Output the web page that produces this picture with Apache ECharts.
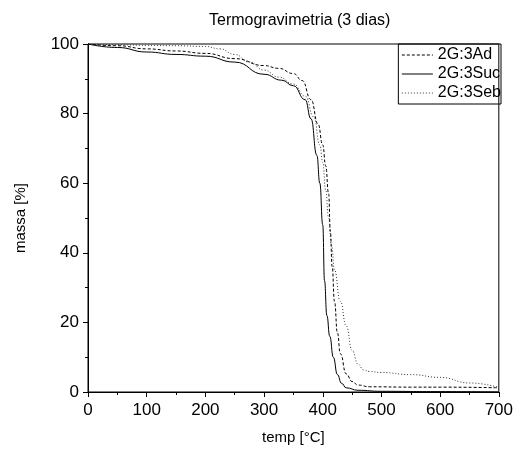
<!DOCTYPE html>
<html>
<head>
<meta charset="utf-8">
<script src="https://cdn.jsdelivr.net/npm/echarts@6/dist/echarts.min.js"></script>
<style>
  html, body { margin: 0; padding: 0; background: #fff; }
  #chart { width: 516px; height: 450px; }
</style>
</head>
<body>
<div id="chart"></div>
<script>
// TG curves: temperature [°C] and mass [%]
var adTemp = [0, 50, 100, 150, 200, 250, 300, 325, 350, 365, 380, 392, 400, 405, 410, 413, 416, 420, 425, 430, 440, 450, 460, 480, 550, 600, 700];
var adMass = [100, 99.5, 98.6, 98, 97.3, 95.8, 93.8, 93, 91.5, 89.5, 84, 77, 71, 65, 57, 46, 36, 26, 17, 11, 5.2, 3, 2, 1.5, 1.4, 1.4, 1.2];

var sucTemp = [0, 50, 100, 150, 200, 250, 300, 330, 350, 370, 380, 390, 395, 400, 403, 407, 412, 418, 425, 432, 440, 460, 500, 600, 700];
var sucMass = [100, 99, 97.7, 97, 96.5, 94.8, 91.3, 89.6, 88, 84, 78.5, 68, 60, 48, 32, 22, 16, 10, 5, 2.5, 1.2, 0.5, 0.2, 0.1, 0];

var sebTemp = [0, 50, 100, 150, 200, 225, 250, 275, 300, 325, 350, 370, 385, 395, 400, 405, 410, 415, 420, 430, 440, 450, 460, 470, 480, 500, 550, 600, 650, 700];
var sebMass = [100, 99.8, 99.6, 99.5, 99.3, 98.6, 97, 94.8, 92.5, 90.5, 88.5, 85, 79, 71, 66, 58, 50, 42, 35, 26, 19, 12, 8, 6.3, 5.9, 5.6, 5, 4.2, 2.6, 1.3];

var xTicks = [0, 100, 200, 300, 400, 500, 600, 700];
var yTicks = [0, 20, 40, 60, 80, 100];

function pairs(xs, ys) {
    return xs.map(function (x, i) { return [x, ys[i]]; });
}

var font = 'Liberation Sans, Arial, sans-serif';
var chart = echarts.init(document.getElementById('chart'), null, {renderer: 'canvas'});

chart.setOption({
    animation: false,
    backgroundColor: '#fff',
    title: {
        text: 'Termogravimetria (3 dias)',
        left: 204,
        top: 8,
        textStyle: {fontFamily: font, fontSize: 16, fontWeight: 'normal', color: '#000'}
    },
    legend: {
        orient: 'vertical',
        right: 15,
        top: 44,
        padding: [3, 0, 3, 3],
        itemGap: 3,
        itemWidth: 31,
        itemHeight: 15,
        borderColor: '#000',
        borderWidth: 1,
        itemStyle: {opacity: 0},
        lineStyle: {width: 1},
        textStyle: {fontFamily: font, fontSize: 16, color: '#000'},
        data: ['2G:3Ad', '2G:3Suc', '2G:3Seb']
    },
    grid: {
        left: 88, right: 15, top: 44, bottom: 58,
        show: true, borderColor: '#000', borderWidth: 1, backgroundColor: 'transparent'
    },
    xAxis: {
        type: 'value',
        min: xTicks[0], max: xTicks[xTicks.length - 1], interval: 100,
        name: 'temp [°C]',
        nameLocation: 'middle',
        nameGap: 38,
        nameTextStyle: {fontFamily: font, fontSize: 15, color: '#000'},
        axisLine: {onZero: false, lineStyle: {color: '#000', width: 1}},
        axisTick: {length: 5, lineStyle: {color: '#000'}},
        minorTick: {show: true, splitNumber: 2, length: 3, lineStyle: {color: '#000'}},
        axisLabel: {fontFamily: font, fontSize: 17, color: '#000', margin: 10},
        splitLine: {show: false}
    },
    yAxis: {
        type: 'value',
        min: yTicks[0], max: yTicks[yTicks.length - 1], interval: 20,
        name: 'massa [%]',
        nameLocation: 'middle',
        nameGap: 60,
        nameTextStyle: {fontFamily: font, fontSize: 15, color: '#000'},
        axisLine: {show: true, onZero: false, lineStyle: {color: '#000', width: 1}},
        axisTick: {show: true, length: 5, lineStyle: {color: '#000'}},
        minorTick: {show: true, splitNumber: 2, length: 3, lineStyle: {color: '#000'}},
        axisLabel: {fontFamily: font, fontSize: 17, color: '#000', margin: 9},
        splitLine: {show: false}
    },
    series: [
        {
            name: '2G:3Ad', type: 'line', data: pairs(adTemp, adMass),
            showSymbol: false, symbol: 'none', smooth: 0.5, smoothMonotone: 'x',
            lineStyle: {color: '#000', width: 1, type: [3, 2]},
            itemStyle: {color: '#000'}
        },
        {
            name: '2G:3Suc', type: 'line', data: pairs(sucTemp, sucMass),
            showSymbol: false, symbol: 'none', smooth: 0.5, smoothMonotone: 'x',
            lineStyle: {color: '#000', width: 1, type: 'solid'},
            itemStyle: {color: '#000'}
        },
        {
            name: '2G:3Seb', type: 'line', data: pairs(sebTemp, sebMass),
            showSymbol: false, symbol: 'none', smooth: 0.5, smoothMonotone: 'x',
            lineStyle: {color: '#333', width: 1, type: [1, 2]},
            itemStyle: {color: '#333'}
        }
    ]
});
</script>
</body>
</html>
